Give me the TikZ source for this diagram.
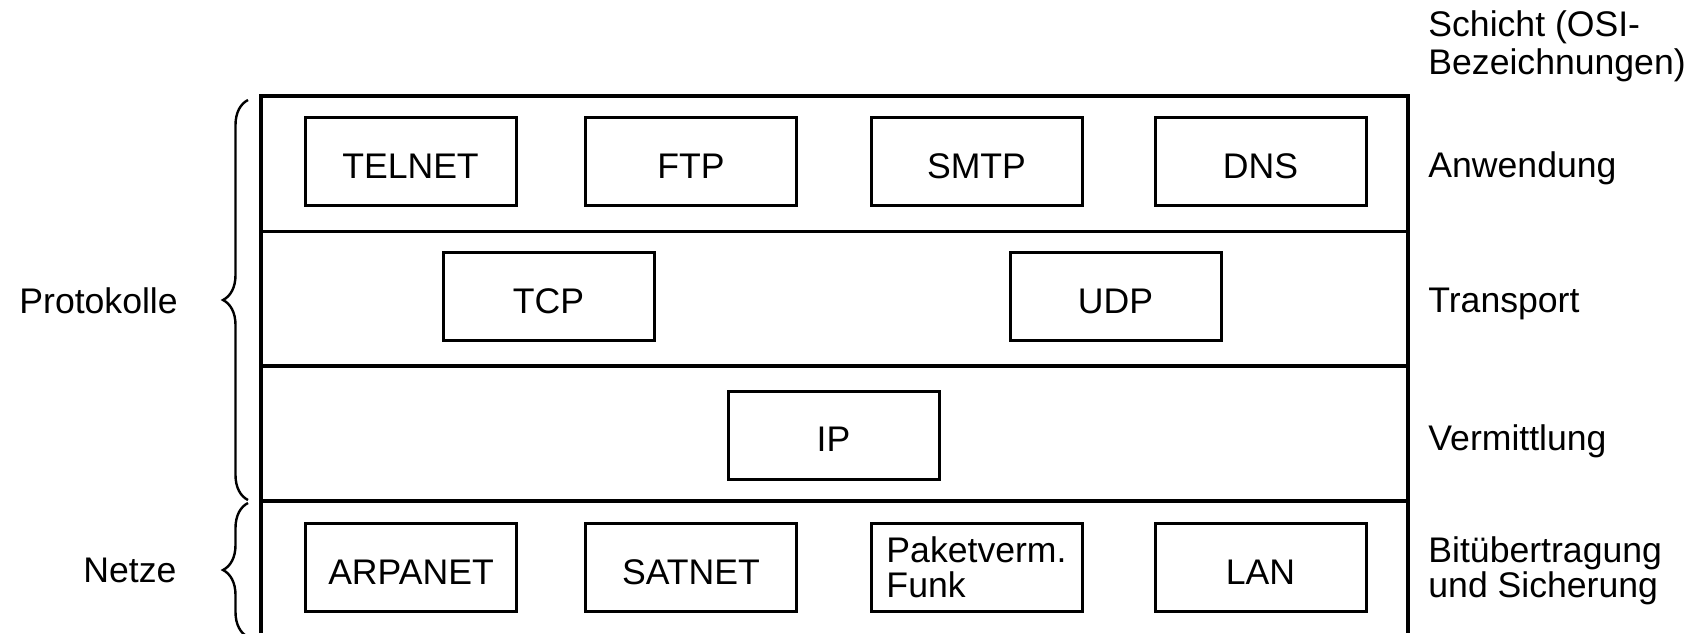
\documentclass[tikz,border=0pt]{standalone}
\usepackage{fontspec}
\setmainfont{Liberation Sans}
\usetikzlibrary{decorations.pathreplacing}
\begin{document}
\begin{tikzpicture}[x=0.5pt,y=-0.5pt,
  every node/.style={font=\fontsize{17.8}{17.5}\selectfont, inner sep=0pt},
  proto/.style={draw, line width=1.5pt, minimum width=105.5pt, minimum height=44pt},
  oneline/.style={proto, text height=16.5pt, text depth=0pt},
  layerline/.style={line width=1.75pt},
  sidetext/.style={anchor=base west, align=left},
  curly/.style={decorate, decoration={brace, amplitude=12.5pt}, line width=1.2pt}]
\useasboundingbox (0,0) rectangle (1700,633);

% layer frame and separators
\draw[layerline] (261,633) -- (261,96) -- (1408,96) -- (1408,633);
\draw[layerline] (261,231.5) -- (1408,231.5);
\draw[layerline] (261,366) -- (1408,366);
\draw[layerline] (261,501) -- (1408,501);

% application layer
\node[oneline] (telnet) at (410.5,161.5) {TELNET};
\node[oneline] (ftp)    at (691,161.5)   {FTP};
\node[oneline] (smtp)   at (976.5,161.5) {SMTP};
\node[oneline] (dns)    at (1260.5,161.5) {DNS};

% transport layer
\node[oneline] (tcp) at (548.5,296.75) {TCP};
\node[oneline] (udp) at (1115.5,296.75) {UDP};

% network layer
\node[oneline] (ip) at (833.5,435) {IP};

% networks
\node[oneline] (arpanet) at (411,567.5) {ARPANET};
\node[oneline] (satnet)  at (691,567.5) {SATNET};
\node[proto, align=left] (funk) at (976.5,567.5) {Paketverm.\\Funk};
\node[oneline] (lan)     at (1260.5,567.5) {LAN};

% layer names (base anchor sits on the last line)
\node[sidetext, font=\fontsize{17.8}{19}\selectfont] (osi) at (1428,74) {Schicht (OSI-\\Bezeichnungen)};
\node[sidetext] (anw)  at (1428,177) {Anwendung};
\node[sidetext] (trp)  at (1428,312) {Transport};
\node[sidetext] (verm) at (1428,450) {Vermittlung};
\node[sidetext] (bit)  at (1428,597) {Bitübertragung\\und Sicherung};

% groups on the left
\draw[curly] (248,500) -- (248,100);
\draw[curly] (248,637) -- (248,503);
\node[anchor=base west] (prot) at (19,313) {Protokolle};
\node[anchor=base west] (netze) at (83,582) {Netze};
\end{tikzpicture}
\end{document}
